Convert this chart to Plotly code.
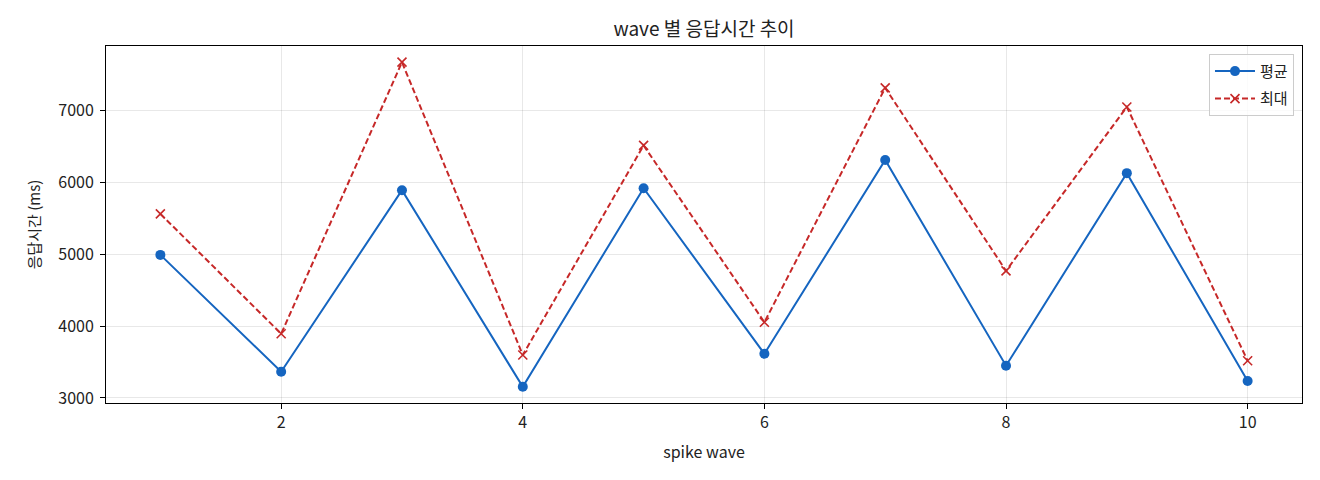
import plotly.graph_objects as go

FONT = "Noto Sans CJK KR"

waves = [1, 2, 3, 4, 5, 6, 7, 8, 9, 10]
avg_ms = [4990, 3365, 5890, 3155, 5917, 3615, 6310, 3449, 6127, 3237]
max_ms = [5560, 3893, 7670, 3598, 6512, 4053, 7312, 4768, 7047, 3518]

x_ticks = [2, 4, 6, 8, 10]
y_ticks = [3000, 4000, 5000, 6000, 7000]

fig = go.Figure()

fig.add_trace(go.Scatter(
    x=waves, y=avg_ms, name="평균", mode="lines+markers", legendgroup="avg",
    line=dict(color="#1565C0", width=2),
    marker=dict(symbol="circle", size=10, color="#1565C0"),
))
fig.add_trace(go.Scatter(
    x=waves, y=max_ms, name="최대", mode="lines+markers", legendgroup="max",
    line=dict(color="#C62828", width=2, dash="6px,3px"),
    marker=dict(symbol="x-thin", size=9, line=dict(color="#C62828", width=1.6)),
))

axis_common = dict(
    showline=True, linecolor="black", linewidth=1, mirror=True,
    ticks="outside", ticklen=5, tickcolor="black", tickwidth=1,
    showgrid=True, gridcolor="rgba(0,0,0,0.09)", gridwidth=1,
    zeroline=False, tickfont=dict(size=16, color="#222"),
)

# page body adds an 8px offset, margins compensate for it
fig.update_layout(
    width=1320, height=480,
    margin=dict(l=98, r=26, t=38, b=85),
    paper_bgcolor="white", plot_bgcolor="white",
    font=dict(family=FONT, color="#222"),
    title=dict(text="wave 별 응답시간 추이", x=(98 + 1196 / 2) / 1320, xanchor="center",
               y=1 - 21 / 480, yanchor="middle", font=dict(size=19)),
    xaxis=dict(axis_common, range=[0.55, 10.45], tickvals=x_ticks,
               title=dict(text="spike wave", font=dict(size=16), standoff=14)),
    yaxis=dict(axis_common, range=[2930, 7895], tickvals=y_ticks, ticklabelstandoff=3,
               title=dict(text="응답시간 (ms)", font=dict(size=15), standoff=14)),
    legend=dict(x=0.9933, y=0.978, xanchor="right", yanchor="top",
                bgcolor="rgba(255,255,255,0.8)", bordercolor="#ccc", borderwidth=1,
                font=dict(size=15), itemwidth=40, tracegroupgap=5),
    showlegend=True,
)

fig.write_html("out.html")
